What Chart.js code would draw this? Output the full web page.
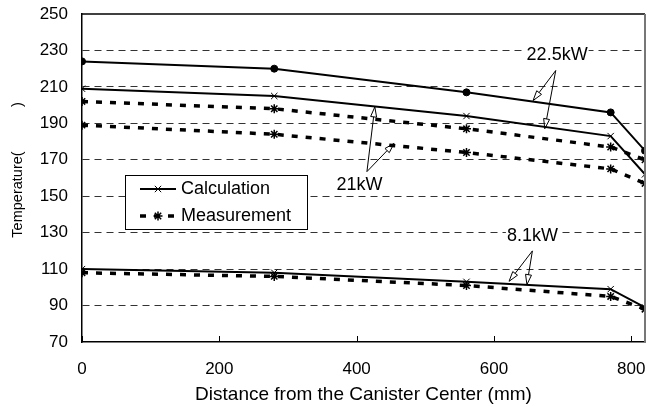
<!DOCTYPE html>
<html>
<head>
<meta charset="utf-8">
<script src="https://cdn.jsdelivr.net/npm/chart.js@4.4.1/dist/chart.umd.min.js"></script>
<style>
  body { margin: 0; background: #fff; }
  canvas { display: block; }
</style>
</head>
<body>
<canvas id="tempChart" width="651" height="407"></canvas>
<script>
// Distance from the canister center (mm)
const distances = [0, 280, 560, 770, 820];
const xTicks = [0, 200, 400, 600, 800];

// Temperatures
const calc225 = [224, 220, 207, 196, 175];
const calc21 = [209, 205, 194, 183, 162];
const meas225 = [202, 198, 187, 177, 170];
const meas21 = [189, 184, 174, 165, 157];
const calc81 = [110, 108, 103, 99, 89];
const meas81 = [108, 106, 101, 95, 88];

// Heat load notes: text, label position, arrow origin, arrow tips (data units)
const loadLabels = [
    ['22.5kW', 692, 227.5, 690, 219, [[657, 202.5], [674, 187]]],
    ['21kW', 404, 156, 415, 163.5, [[426.5, 199], [454.5, 179]]],
    ['8.1kW', 656, 128, 656, 120, [[622, 103.3], [648, 101.5]]]
];

const FONT = "'Liberation Sans', Arial, sans-serif";

function toPoints(ys) {
    return distances.map((x, i) => ({ x: x, y: ys[i] }));
}

function calcSet(ys, marker) {
    return {
        data: toPoints(ys),
        borderColor: '#000',
        backgroundColor: '#000',
        borderWidth: 2,
        pointStyle: marker,
        pointRadius: marker === 'circle' ? 3.5 : 4.5,
        pointBorderWidth: 1,
        tension: 0
    };
}

function measSet(ys) {
    return {
        data: toPoints(ys),
        borderColor: '#000',
        backgroundColor: '#000',
        borderWidth: 3.5,
        borderDash: [6, 8],
        pointStyle: 'star',
        pointRadius: 4.5,
        pointBorderWidth: 1.5,
        tension: 0
    };
}

function arrow(ctx, x1, y1, x2, y2) {
    const ang = Math.atan2(y2 - y1, x2 - x1);
    const len = 10, half = 3;
    const bx = x2 - len * Math.cos(ang), by = y2 - len * Math.sin(ang);
    ctx.beginPath();
    ctx.moveTo(x1, y1);
    ctx.lineTo(bx, by);
    ctx.stroke();
    ctx.beginPath();
    ctx.moveTo(x2, y2);
    ctx.lineTo(bx + half * Math.sin(ang), by - half * Math.cos(ang));
    ctx.lineTo(bx - half * Math.sin(ang), by + half * Math.cos(ang));
    ctx.closePath();
    ctx.stroke();
}

// frame, inner x ticks, heat load notes and the legend box
const extras = {
    id: 'extras',
    afterDraw(chart) {
        const ctx = chart.ctx;
        const area = chart.chartArea;
        const xs = chart.scales.x, ys = chart.scales.y;
        ctx.save();

        // top and right frame
        ctx.strokeStyle = '#000';
        ctx.lineWidth = 1.5;
        ctx.beginPath();
        ctx.moveTo(area.left, area.top);
        ctx.lineTo(area.right, area.top);
        ctx.stroke();
        ctx.strokeStyle = '#777';
        ctx.lineWidth = 2;
        ctx.beginPath();
        ctx.moveTo(area.right, area.top);
        ctx.lineTo(area.right, area.bottom);
        ctx.stroke();

        // x tick marks pointing inward
        ctx.strokeStyle = '#000';
        ctx.lineWidth = 1;
        xTicks.forEach(v => {
            const px = Math.round(xs.getPixelForValue(v)) + 0.5;
            ctx.beginPath();
            ctx.moveTo(px, area.bottom);
            ctx.lineTo(px, area.bottom - 6);
            ctx.stroke();
        });

        // heat load labels with arrows
        ctx.font = '18px ' + FONT;
        ctx.textAlign = 'center';
        ctx.textBaseline = 'middle';
        loadLabels.forEach(([text, lx, ly, ox, oy, tips]) => {
            const tx = xs.getPixelForValue(lx), ty = ys.getPixelForValue(ly);
            const w = ctx.measureText(text).width;
            ctx.fillStyle = '#fff';
            ctx.fillRect(tx - w / 2 - 1, ty - 8, w + 2, 16);
            ctx.fillStyle = '#000';
            ctx.fillText(text, tx, ty);
            ctx.lineWidth = 1;
            tips.forEach(([ex, ey]) => {
                arrow(ctx, xs.getPixelForValue(ox), ys.getPixelForValue(oy),
                    xs.getPixelForValue(ex), ys.getPixelForValue(ey));
            });
        });

        // legend box
        const bx = area.left + 43, by = area.top + 161, bw = 182, bh = 54;
        ctx.fillStyle = '#fff';
        ctx.fillRect(bx, by, bw, bh);
        ctx.strokeStyle = '#000';
        ctx.lineWidth = 1;
        ctx.strokeRect(bx + 0.5, by + 0.5, bw, bh);

        const row1 = by + 14, row2 = by + 41;
        ctx.lineWidth = 2;
        ctx.beginPath();
        ctx.moveTo(bx + 15, row1);
        ctx.lineTo(bx + 51, row1);
        ctx.stroke();
        ctx.lineWidth = 1;
        Chart.helpers.drawPoint(ctx, { pointStyle: 'crossRot', radius: 4.5, borderWidth: 1 }, bx + 33, row1);

        ctx.lineWidth = 3.5;
        ctx.setLineDash([6, 8]);
        ctx.beginPath();
        ctx.moveTo(bx + 15, row2);
        ctx.lineTo(bx + 51, row2);
        ctx.stroke();
        ctx.setLineDash([]);
        ctx.lineWidth = 1.5;
        Chart.helpers.drawPoint(ctx, { pointStyle: 'star', radius: 4.5, borderWidth: 1.5 }, bx + 33, row2);

        ctx.font = '18px ' + FONT;
        ctx.textAlign = 'left';
        ctx.fillStyle = '#000';
        ctx.fillText('Calculation', bx + 56, row1);
        ctx.fillText('Measurement', bx + 56, row2);

        ctx.restore();
    }
};

const ctx = document.getElementById('tempChart').getContext('2d');
new Chart(ctx, {
    type: 'line',
    data: {
        datasets: [
            calcSet(calc225, 'circle'),
            calcSet(calc21, 'crossRot'),
            measSet(meas225),
            measSet(meas21),
            calcSet(calc81, 'crossRot'),
            measSet(meas81)
        ]
    },
    options: {
        responsive: false,
        animation: false,
        layout: { padding: { top: 0, right: 4, left: 0, bottom: 0 } },
        plugins: {
            legend: { display: false },
            tooltip: { enabled: false }
        },
        scales: {
            x: {
                type: 'linear',
                min: 0,
                max: 820,
                afterBuildTicks: scale => {
                    scale.ticks = xTicks.map(v => ({ value: v }));
                },
                afterFit: scale => {
                    scale.height = 65;
                    scale.paddingLeft = 0;
                    scale.paddingRight = 0;
                },
                grid: { display: false, drawTicks: false },
                border: { color: '#000', width: 1.5 },
                ticks: {
                    color: '#000',
                    padding: 17,
                    maxRotation: 0,
                    font: { family: FONT, size: 17 }
                },
                title: {
                    display: true,
                    text: 'Distance from the Canister Center (mm)',
                    color: '#000',
                    padding: { top: 2, bottom: 1 },
                    font: { family: FONT, size: 19 }
                }
            },
            y: {
                min: 70,
                max: 250,
                afterFit: scale => {
                    scale.width = 82;
                    scale.paddingTop = 14;
                    scale.paddingBottom = 0;
                },
                grid: {
                    drawTicks: false,
                    lineWidth: 1,
                    color: c => (c.tick && (c.tick.value === 70 || c.tick.value === 250)) ? 'rgba(0,0,0,0)' : '#333'
                },
                border: { color: '#000', width: 1.5, dash: [7, 5] },
                ticks: {
                    stepSize: 20,
                    color: '#000',
                    padding: 14,
                    font: { family: FONT, size: 17 }
                },
                title: {
                    display: true,
                    text: '    Temperature(           )',
                    color: '#000',
                    padding: { top: 9, bottom: 0 },
                    font: { family: FONT, size: 14.5 }
                }
            }
        }
    },
    plugins: [extras]
});
</script>
</body>
</html>
